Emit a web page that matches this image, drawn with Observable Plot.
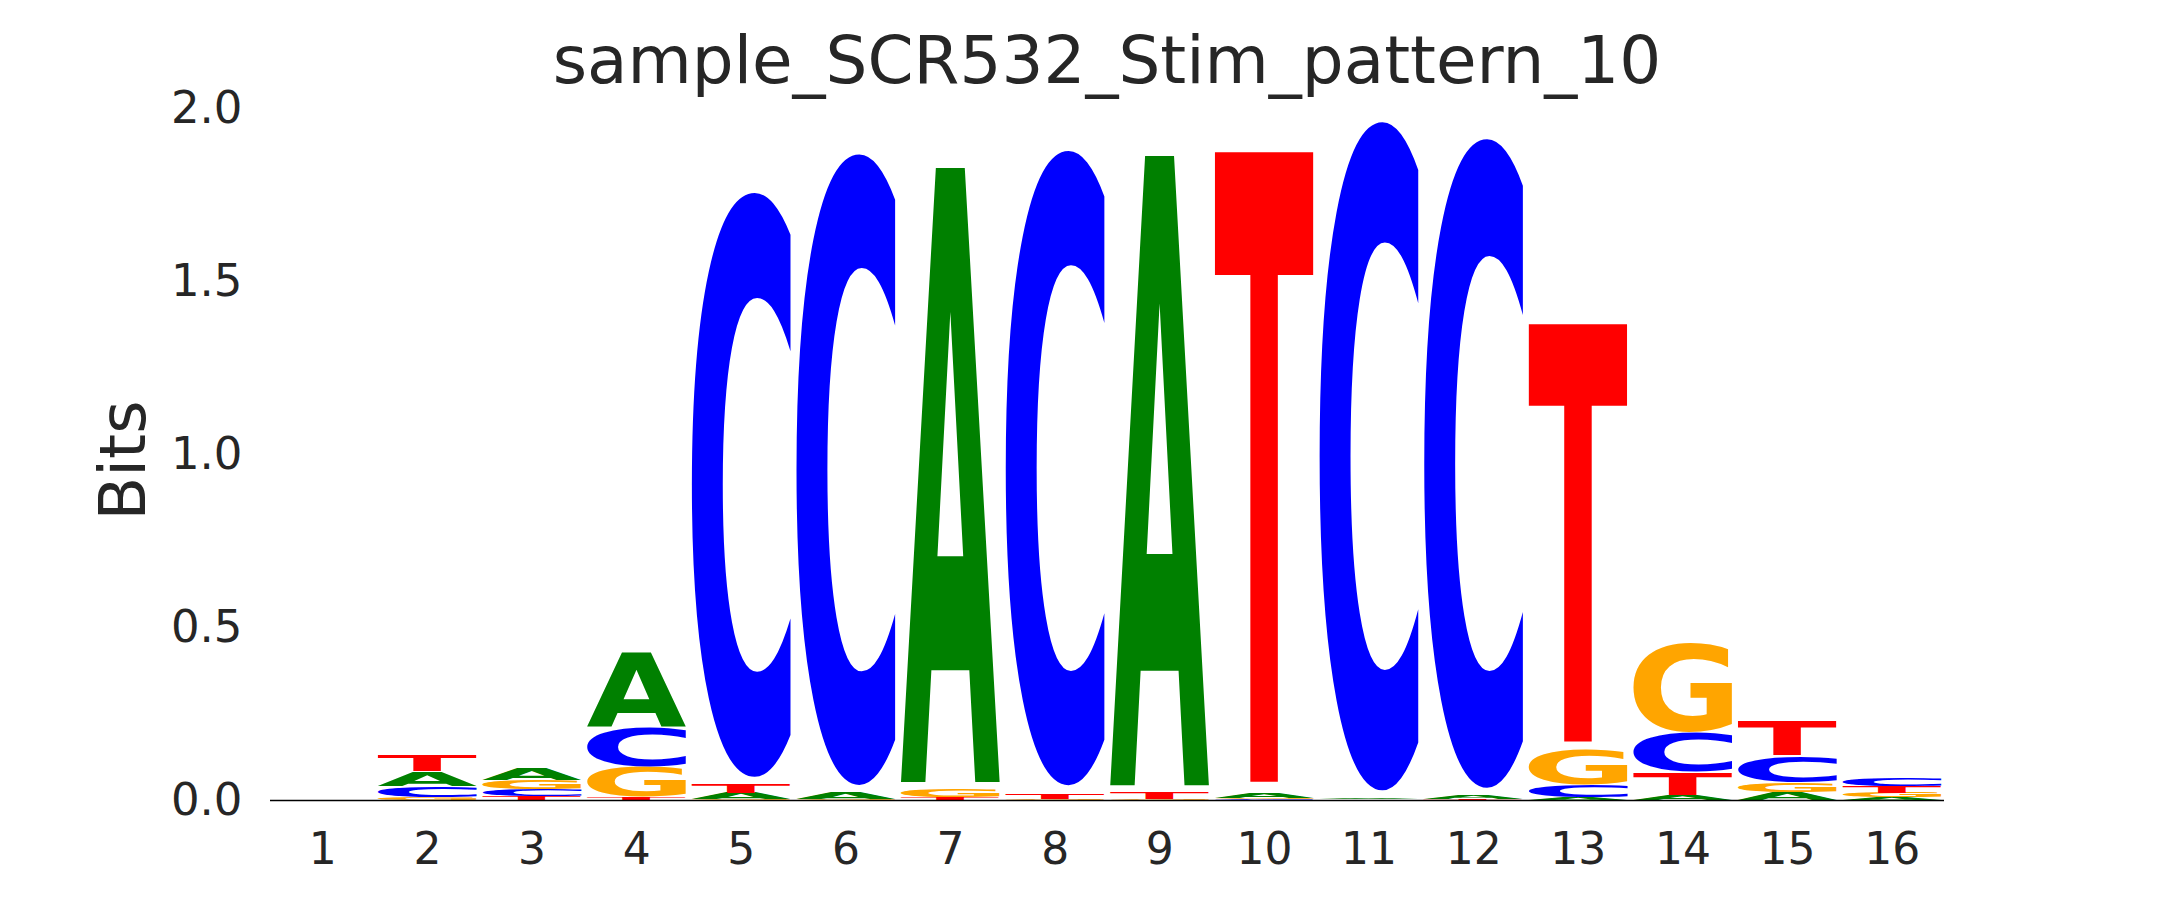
<!DOCTYPE html>
<html>
<head>
<meta charset="utf-8">
<script src="https://cdn.jsdelivr.net/npm/d3@7"></script>
<script src="https://cdn.jsdelivr.net/npm/@observablehq/plot@0.6"></script>
<style>
  body { margin: 0; background: #fff; font-family: "DejaVu Sans", sans-serif; }
  #header { display: block; }
  #chart svg { display: block; }
</style>
</head>
<body>
<svg id="header" width="2160" height="100"></svg>
<div id="chart"></div>
<script>
// ---------- data ----------
const titleText = "sample_SCR532_Stim_pattern_10";
const yLabel = "Bits";
const positions = [1, 2, 3, 4, 5, 6, 7, 8, 9, 10, 11, 12, 13, 14, 15, 16];
const bases = ["A", "C", "G", "T"];
// information (bits) contributed by each base at each position
const A = [0, 0.043, 0.035, 0.218, 0.018, 0.017, 1.817, 0, 1.862, 0.013, 0.002, 0.010, 0.008, 0.014, 0.023, 0.007];
const C = [0, 0.031, 0.018, 0.116, 1.734, 1.872, 0, 1.883, 0, 0.003, 1.984, 1.926, 0.034, 0.116, 0.076, 0.022];
const G = [0, 0.008, 0.027, 0.086, 0.003, 0.004, 0.025, 0.003, 0.004, 0.004, 0.001, 0, 0.105, 0.266, 0.028, 0.014];
const T = [0, 0.045, 0.012, 0.008, 0.025, 0, 0.007, 0.017, 0.018, 1.875, 0.001, 0.002, 1.243, 0.065, 0.101, 0.019];
const yTicks = [0, 0.5, 1.0, 1.5, 2.0];
const baseColors = ["#008000", "#0000ff", "#ffa500", "#ff0000"];

// ---------- build stacked table (small on bottom, big on top) ----------
const series = {A, C, G, T};
const rows = [];
positions.forEach((p, i) => {
  const vals = bases
    .map(b => ({letter: b, value: series[b][i]}))
    .filter(d => d.value > 0)
    .sort((a, b) => a.value - b.value);
  let cum = 0;
  for (const v of vals) {
    rows.push({pos: p, letter: v.letter, y1: cum, y2: cum + v.value});
    cum += v.value;
  }
});

// ---------- title ----------
const header = document.getElementById("header");
const t = document.createElementNS("http://www.w3.org/2000/svg", "text");
t.setAttribute("x", 1107);
t.setAttribute("y", 83);
t.setAttribute("text-anchor", "middle");
t.setAttribute("font-family", "DejaVu Sans");
t.setAttribute("font-size", 66);
t.setAttribute("fill", "#262626");
t.textContent = titleText;
header.appendChild(t);

// ---------- plot ----------
const plot = Plot.plot({
  width: 2160,
  height: 800,
  marginLeft: 270,
  marginRight: 216,
  marginTop: 8,
  marginBottom: 100,
  style: {fontFamily: "DejaVu Sans", color: "#262626", background: "white", overflow: "visible"},
  x: {domain: [0.5, 16.5]},
  y: {domain: [0, 2]},
  color: {domain: bases, range: baseColors},
  marks: [
    Plot.axisX({ticks: positions, tickFormat: d => String(d), tickSize: 0, tickPadding: 32, fontSize: 44, label: null, fill: "#262626"}),
    Plot.axisY({ticks: yTicks, tickFormat: d => d.toFixed(1), tickSize: 0, tickPadding: 28, fontSize: 45, label: null, fill: "#262626"}),
    Plot.rect(rows, {
      x1: d => d.pos - 0.475,
      x2: d => d.pos + 0.475,
      y1: "y1",
      y2: "y2",
      fill: "letter"
    }),
    Plot.ruleY([0], {stroke: "black", strokeWidth: 1.4}),
    Plot.text([yLabel], {frameAnchor: "left", textAnchor: "middle", dx: -146, dy: 6, rotate: -90, fontSize: 64, fill: "#262626"})
  ]
});
document.getElementById("chart").appendChild(plot);

// ---------- turn each scaled box into a stretched glyph ----------
const ctx = document.createElement("canvas").getContext("2d");
ctx.font = "bold 200px 'DejaVu Sans'";
ctx.textAlign = "left";
const metrics = {};
for (const b of bases) {
  const m = ctx.measureText(b);
  metrics[b] = {l: m.actualBoundingBoxLeft, r: m.actualBoundingBoxRight, a: m.actualBoundingBoxAscent, d: m.actualBoundingBoxDescent};
}
const norm = c => d3.color(c).formatHex();
const letterOf = Object.fromEntries(bases.map((b, i) => [norm(baseColors[i]), b]));
const vpad = 0.011;
plot.querySelectorAll("rect").forEach(rect => {
  const f = rect.getAttribute("fill");
  if (!f || !d3.color(f)) return;
  const letter = letterOf[norm(f)];
  if (!letter) return;
  const x = +rect.getAttribute("x"), y = +rect.getAttribute("y");
  const w = +rect.getAttribute("width"), h = +rect.getAttribute("height");
  const m = metrics[letter];
  const parent = rect.parentNode;
  rect.remove();
  if (h < 0.5) return; // too thin to show a glyph
  const y0 = y + vpad * h, hh = h * (1 - 2 * vpad);
  const sx = w / (m.l + m.r), sy = hh / (m.a + m.d);
  const tx = x + sx * m.l, ty = y0 + sy * m.a;
  const txt = document.createElementNS("http://www.w3.org/2000/svg", "text");
  txt.setAttribute("x", 0);
  txt.setAttribute("y", 0);
  txt.setAttribute("text-anchor", "start");
  txt.setAttribute("font-family", "DejaVu Sans");
  txt.setAttribute("font-weight", "bold");
  txt.setAttribute("font-size", 200);
  txt.setAttribute("fill", f);
  txt.setAttribute("transform", `translate(${tx},${ty}) scale(${sx},${sy})`);
  txt.textContent = letter;
  parent.appendChild(txt);
});
</script>
</body>
</html>
